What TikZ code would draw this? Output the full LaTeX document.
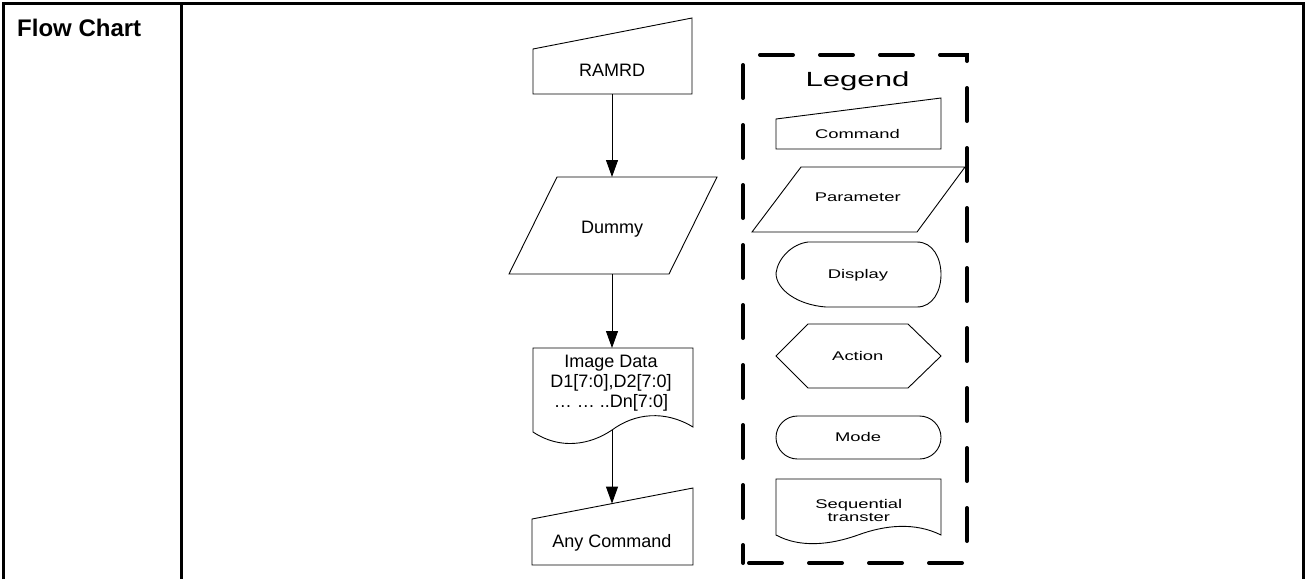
\documentclass[tikz,border=0pt]{standalone}
\usepackage{fontspec}
\setmainfont{Liberation Sans}
\newfontfamily\legendfont[FakeStretch=1.46]{Liberation Sans}
\newfontfamily\legendtitlefont[FakeStretch=1.52]{Liberation Sans}
\usetikzlibrary{arrows.meta}
\begin{document}
\begin{tikzpicture}[x=1pt,y=-1pt,
  shapeline/.style={draw=black,line width=0.9pt,line join=miter},
  frameline/.style={line width=2.8pt},
  flow/.style={line width=0.9pt,-{Triangle[length=17pt,width=12pt]}},
  maintext/.style={font=\fontsize{18}{20}\selectfont,anchor=base,inner sep=0pt,align=center},
  legtext/.style={font=\legendfont\fontsize{12.6}{13.6}\selectfont,anchor=base,inner sep=0pt,align=center},
  legendbox/.style={line width=4pt,line cap=round,dash pattern=on 33pt off 27pt,dash phase=15pt}]

\useasboundingbox (0,0) rectangle (1305,579);

% table frame
\draw[frameline] (3.3,579) -- (3.3,3.3) -- (1303.7,3.3) -- (1303.7,579);
\draw[frameline] (181.3,3.3) -- (181.3,579);
\node[font=\bfseries\fontsize{24}{26}\selectfont,anchor=base west,inner sep=0pt] (title) at (17,36) {Flow Chart};

% ---- main flow ----
% RAMRD (command)
\draw[shapeline] (533,49) -- (692,18) -- (692,94) -- (533,94) -- cycle;
\node[maintext] (ramrd) at (612,76.5) {RAMRD};
\coordinate (ramrdB) at (612,94);

% Dummy (parameter)
\draw[shapeline] (557,177) -- (717,177) -- (669,274) -- (509,274) -- cycle;
\node[maintext] (dummy) at (612,233) {Dummy};
\coordinate (dummyT) at (612,177);
\coordinate (dummyB) at (612,274);

% Image data (sequential transfer)
\draw[shapeline] (533,432) -- (533,348) -- (693,348) -- (693,427)
  .. controls (665,410) and (635,413) .. (612,430)
  .. controls (590,445) and (560,450) .. (533,432) -- cycle;
\node[maintext] (imgdata) at (611,407) {Image Data\\D1[7:0],D2[7:0]\\… … ..Dn[7:0]};
\coordinate (imgT) at (612,348);
\coordinate (imgB) at (612,430);

% Any Command (command)
\draw[shapeline] (532,519) -- (693,488) -- (693,565) -- (532,565) -- cycle;
\node[maintext] (anycmd) at (612,547) {Any Command};
\coordinate (anyT) at (612,503.6);

\draw[flow] (ramrdB) -- (dummyT);
\draw[flow] (dummyB) -- (imgT);
\draw[flow] (imgB) -- (anyT);

% ---- legend ----
\draw[legendbox] (743,563) -- (743,55) -- (967,55) -- (967,563) -- cycle;
\node[font=\legendtitlefont\fontsize{20.5}{22}\selectfont,anchor=base,inner sep=0pt] (legend) at (857.5,86.7) {Legend};

% Command
\draw[shapeline] (776,119) -- (941,98) -- (941,149) -- (776,149) -- cycle;
\node[legtext] (lcmd) at (857.5,138.3) {Command};

% Parameter
\draw[shapeline] (801,167) -- (965,167) -- (917,232) -- (752,232) -- cycle;
\node[legtext] (lpar) at (857.7,201.7) {Parameter};

% Display
\draw[shapeline] (808,242) -- (917,242)
  .. controls (949,242) and (949,307) .. (917,307) -- (826,307)
  .. controls (798,305) and (776,290) .. (776,273)
  .. controls (778,258) and (792,244) .. (808,242) -- cycle;
\node[legtext] (ldisp) at (858,278.3) {Display};

% Action
\draw[shapeline] (776,356) -- (808,324) -- (908,324) -- (941,356) -- (908,388) -- (808,388) -- cycle;
\node[legtext] (lact) at (857.8,360) {Action};

% Mode
\draw[shapeline,rounded corners=21.5pt] (776,416) rectangle (941,459);
\node[legtext] (lmode) at (858,441) {Mode};

% Sequential transfer
\draw[shapeline] (776,535) -- (776,479) -- (941,479) -- (941,535)
  .. controls (915,522) and (885,525) .. (858,535)
  .. controls (830,545) and (800,548) .. (776,535) -- cycle;
\node[legtext] (lseq) at (858.8,521.6) {Sequential\\transter};

\end{tikzpicture}
\end{document}
